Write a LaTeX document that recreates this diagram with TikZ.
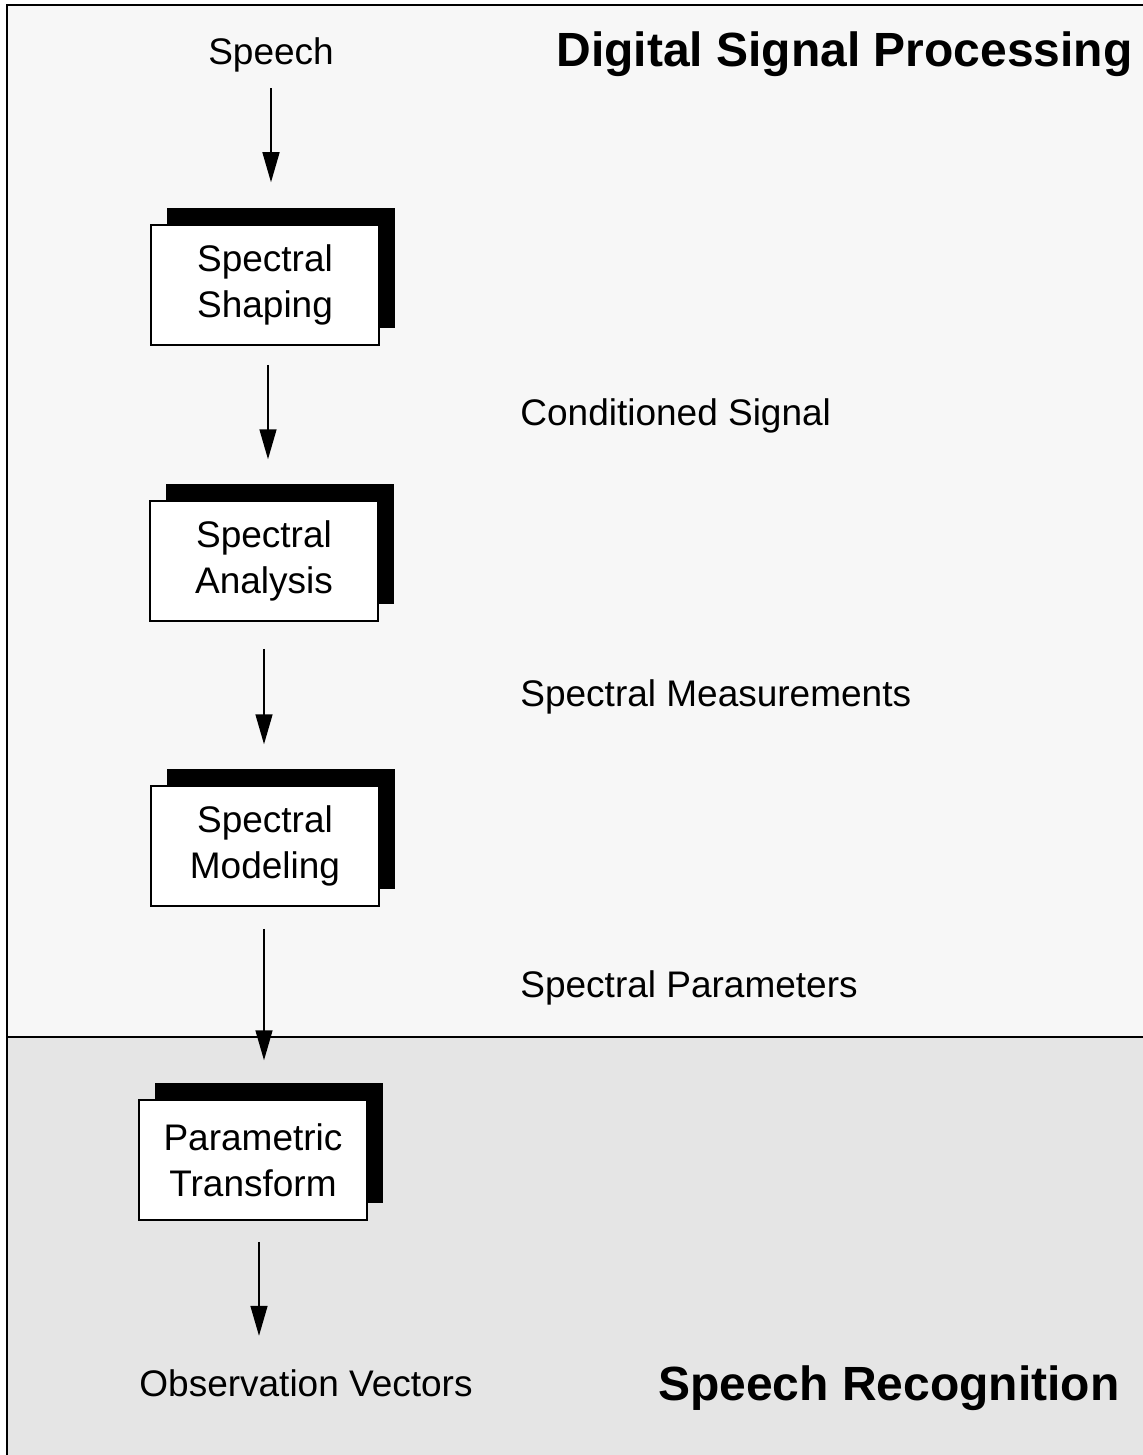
\documentclass[tikz,border=0pt]{standalone}
\usepackage{fontspec}
\setmainfont{Liberation Sans}
\usetikzlibrary{arrows.meta, shadows}

\begin{document}
\begin{tikzpicture}[x=0.5pt, y=-0.5pt,
    every node/.style={inner sep=0pt, font=\fontsize{18.5}{23}\selectfont},
    stage/.style={draw, fill=white, line width=0.75pt, minimum width=114pt, minimum height=60pt,
        align=center, drop shadow={shadow xshift=8pt, shadow yshift=8.5pt, fill=black, opacity=1}},
    heading/.style={font=\fontsize{24}{28}\selectfont\bfseries},
    flow/.style={-{Triangle[length=15pt, width=8.5pt]}, line width=0.75pt}]
    \useasboundingbox (0,0) rectangle (1143,1455);
    \fill[black!3] (7,5) rectangle (1160,1037);
    \fill[black!10] (7,1037) rectangle (1160,1470);
    \draw[line width=1pt] (7,1470) -- (7,5) -- (1160,5);
    \draw[line width=1pt] (7,1037) -- (1160,1037);

    \node[heading, anchor=base east] (dsp) at (1133,67) {Digital Signal Processing};
    \node[heading, anchor=base east] (sr) at (1120,1400) {Speech Recognition};

    \node[anchor=base] (speech) at (271,65) {Speech};
    \node[stage] (shaping) at (265,285) {Spectral\\Shaping};
    \node[stage] (analysis) at (264,561) {Spectral\\Analysis};
    \node[stage] (modeling) at (265,846) {Spectral\\Modeling};
    \node[stage] (transform) at (253,1160) {Parametric\\Transform};
    \node[anchor=base] (obs) at (306,1396) {Observation Vectors};

    \node[anchor=base west] (cond) at (520,425) {Conditioned Signal};
    \node[anchor=base west] (meas) at (520,706) {Spectral Measurements};
    \node[anchor=base west] (param) at (520,997) {Spectral Parameters};

    \draw[flow, shorten <=7.5pt, shorten >=21pt] (speech.south) -- (speech.south |- shaping.north);
    \draw[flow, shorten <=9.5pt, shorten >=20.5pt] ([xshift=1.5pt]shaping.south) -- ([xshift=2pt]analysis.north);
    \draw[flow, shorten <=13.5pt, shorten >=20.5pt] (analysis.south) -- (analysis.south |- modeling.north);
    \draw[flow, shorten <=11pt, shorten >=19.5pt] (analysis.south |- modeling.south) -- (analysis.south |- transform.north);
    \draw[flow, shorten <=10.5pt, shorten >=16.5pt] ([xshift=3pt]transform.south) -- ([xshift=3pt]transform.south |- obs.north);
\end{tikzpicture}
\end{document}
